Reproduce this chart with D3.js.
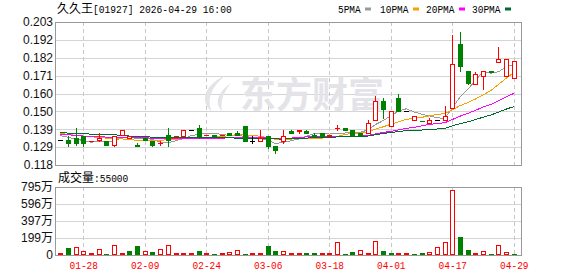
<!DOCTYPE html>
<html>
<head>
<meta charset="utf-8">
<script src="https://cdn.jsdelivr.net/npm/d3@7"></script>
<style>
    body { margin: 0; background: #fff; }
    svg { display: block; }
</style>
</head>
<body>
<div id="chart"></div>
<script>
// header texts
const stockName = "久久王";
const stockCode = "01927";
const stamp = "2026-04-29 16:00";

// daily prices (HKD)
const opens = [0.133, 0.133, 0.134, 0.135, 0.132, 0.133, 0.132, 0.130, 0.136, 0.134,
    0.130, 0.134, 0.132, 0.131, 0.136, 0.135, 0.135, 0.139, 0.140, 0.136,
    0.136, 0.136, 0.137, 0.137, 0.141, 0.132, 0.132, 0.135, 0.129, 0.132,
    0.138, 0.138, 0.138, 0.136, 0.137, 0.135, 0.140, 0.140, 0.139, 0.137,
    0.137, 0.145, 0.156, 0.141, 0.158, 0.150, 0.145, 0.144, 0.143, 0.145,
    0.145, 0.152, 0.190, 0.174, 0.166, 0.171, 0.174, 0.179, 0.171, 0.170];
const closes = [0.133, 0.131, 0.131, 0.131, 0.132, 0.134, 0.130, 0.135, 0.139, 0.135,
    0.129, 0.133, 0.130, 0.131, 0.133, 0.135, 0.139, 0.139, 0.135, 0.136,
    0.135, 0.136, 0.136, 0.136, 0.132, 0.132, 0.134, 0.129, 0.127, 0.135,
    0.137, 0.139, 0.137, 0.135, 0.135, 0.136, 0.140, 0.139, 0.136, 0.136,
    0.143, 0.156, 0.151, 0.150, 0.150, 0.150, 0.147, 0.144, 0.145, 0.145,
    0.147, 0.178, 0.177, 0.167, 0.172, 0.174, 0.173, 0.181, 0.181, 0.180];
const highs = [0.133, 0.135, 0.140, 0.135, 0.132, 0.137, 0.132, 0.135, 0.139, 0.135,
    0.131, 0.134, 0.132, 0.132, 0.140, 0.135, 0.139, 0.139, 0.142, 0.136,
    0.136, 0.136, 0.137, 0.138, 0.141, 0.135, 0.139, 0.135, 0.129, 0.139,
    0.139, 0.139, 0.139, 0.137, 0.137, 0.136, 0.142, 0.140, 0.139, 0.137,
    0.145, 0.159, 0.158, 0.150, 0.160, 0.150, 0.147, 0.144, 0.146, 0.145,
    0.153, 0.195, 0.197, 0.174, 0.173, 0.174, 0.174, 0.188, 0.181, 0.180];
const lows = [0.133, 0.129, 0.130, 0.129, 0.132, 0.132, 0.130, 0.129, 0.136, 0.134,
    0.129, 0.133, 0.129, 0.130, 0.129, 0.135, 0.135, 0.139, 0.134, 0.136,
    0.135, 0.136, 0.136, 0.136, 0.132, 0.131, 0.132, 0.128, 0.125, 0.131,
    0.137, 0.137, 0.137, 0.135, 0.135, 0.135, 0.139, 0.139, 0.136, 0.136,
    0.137, 0.145, 0.146, 0.141, 0.150, 0.150, 0.145, 0.144, 0.143, 0.145,
    0.145, 0.152, 0.174, 0.166, 0.166, 0.163, 0.173, 0.179, 0.171, 0.170];

// volume, in 万 shares
const volumes = [8, 83, 83, 40, 10, 63, 15, 109, 10, 52,
    109, 40, 40, 63, 106, 10, 10, 10, 52, 8,
    12, 8, 20, 52, 12, 8, 8, 109, 52, 40,
    8, 8, 20, 20, 8, 5, 135, 5, 30, 52,
    10, 153, 52, 20, 8, 8, 12, 20, 20, 84,
    135, 737, 207, 63, 8, 40, 10, 104, 20, 5.5];

// moving averages as shown
const ma5 = [0.1355, 0.1345, 0.1335, 0.1325, 0.1316, 0.1318, 0.1316, 0.1324, 0.1340, 0.1346,
    0.1336, 0.1342, 0.1332, 0.1316, 0.1312, 0.1324, 0.1336, 0.1354, 0.1362, 0.1368,
    0.1368, 0.1362, 0.1356, 0.1358, 0.1350, 0.1344, 0.1340, 0.1326, 0.1308, 0.1314,
    0.1324, 0.1334, 0.1350, 0.1366, 0.1366, 0.1364, 0.1366, 0.1370, 0.1372, 0.1374,
    0.1388, 0.1420, 0.1444, 0.1472, 0.1500, 0.1514, 0.1496, 0.1482, 0.1472, 0.1462,
    0.1456, 0.1518, 0.1584, 0.1628, 0.1682, 0.1736, 0.1726, 0.1734, 0.1762, 0.1778];
const ma10 = [0.1368, 0.1362, 0.1356, 0.1352, 0.1348, 0.1344, 0.1340, 0.1338, 0.1335, 0.1331,
    0.1327, 0.1329, 0.1328, 0.1328, 0.1329, 0.1330, 0.1339, 0.1343, 0.1339, 0.1340,
    0.1346, 0.1349, 0.1355, 0.1360, 0.1359, 0.1356, 0.1351, 0.1341, 0.1333, 0.1332,
    0.1334, 0.1337, 0.1338, 0.1337, 0.1340, 0.1344, 0.1350, 0.1360, 0.1369, 0.1370,
    0.1376, 0.1393, 0.1407, 0.1422, 0.1437, 0.1451, 0.1458, 0.1463, 0.1472, 0.1481,
    0.1485, 0.1507, 0.1533, 0.1550, 0.1572, 0.1596, 0.1622, 0.1659, 0.1695, 0.1730];
const ma20 = [0.1362, 0.1360, 0.1356, 0.1352, 0.1350, 0.1348, 0.1346, 0.1345, 0.1344, 0.1343,
    0.1342, 0.1341, 0.1340, 0.1339, 0.1338, 0.1337, 0.1337, 0.1336, 0.1336, 0.1336,
    0.1337, 0.1339, 0.1342, 0.1344, 0.1344, 0.1343, 0.1345, 0.1342, 0.1336, 0.1336,
    0.1340, 0.1343, 0.1347, 0.1349, 0.1350, 0.1350, 0.1351, 0.1351, 0.1351, 0.1351,
    0.1355, 0.1365, 0.1373, 0.1380, 0.1389, 0.1398, 0.1404, 0.1412, 0.1421, 0.1426,
    0.1431, 0.1450, 0.1470, 0.1486, 0.1505, 0.1524, 0.1540, 0.1561, 0.1584, 0.1606];
const ma30 = [0.1372, 0.1370, 0.1368, 0.1365, 0.1364, 0.1363, 0.1362, 0.1360, 0.1356, 0.1352,
    0.1349, 0.1347, 0.1346, 0.1345, 0.1345, 0.1344, 0.1344, 0.1343, 0.1343, 0.1342,
    0.1342, 0.1341, 0.1341, 0.1340, 0.1339, 0.1338, 0.1337, 0.1336, 0.1335, 0.1334,
    0.1336, 0.1338, 0.1340, 0.1342, 0.1343, 0.1343, 0.1347, 0.1348, 0.1347, 0.1347,
    0.1352, 0.1360, 0.1367, 0.1373, 0.1379, 0.1384, 0.1386, 0.1388, 0.1391, 0.1394,
    0.1398, 0.1412, 0.1426, 0.1436, 0.1450, 0.1464, 0.1477, 0.1494, 0.1512, 0.1527];

const maNames = ["5PMA", "10PMA", "20PMA", "30PMA"];

// axis ticks
const priceTickLabels = ["0.118", "0.129", "0.139", "0.150", "0.160", "0.171", "0.182", "0.192", "0.203"];
const volTickLabels = ["0", "199万", "397万", "596万", "795万"];
const dateTickIndex = [3, 11, 19, 27, 35, 43, 51, 59];
const dateTickLabels = ["01-28", "02-09", "02-24", "03-06", "03-18", "04-01", "04-17", "04-29"];

const RED = "#ff0000", GREEN = "#008000";
const MONO = "'Liberation Mono', 'DejaVu Sans Mono', monospace";
const CJK = "'Noto Sans CJK SC', sans-serif";
const SANS = "'Liberation Sans', Arial, 'Noto Sans CJK SC', sans-serif";
const CHAR_W = 5.8; // half-width glyph advance of the bitmap font

class KChart {
    constructor() {
        this.left = 55;
        this.right = 522;
        this.svg = d3.select("#chart")
            .append("svg")
            .attr("width", 578)
            .attr("height", 276);

        // scales
        this.x = d3.scaleLinear().domain([0, closes.length - 1]).range([60.2, 513.8]);
        this.y = d3.scaleLinear().domain([0.118, 0.203]).range([165, 22]);
        this.yv = d3.scaleLinear().domain([0, 795]).range([255, 186.5]);
        this.colors = d3.scaleOrdinal().domain(maNames).range(["#9a9a9a", "#f5a300", "#ff00ff", "#006a30"]);

        this.drawHeader();
        this.drawFrames();
        this.drawWatermark();
        this.drawMA();
        this.drawCandles();
        this.drawVolume();
    }

    // half-width text, stretched to the cell width of the original font
    mono(sel, str) {
        return sel.style("font-family", MONO).style("font-size", "10px")
            .attr("textLength", str.length * CHAR_W - 0.5)
            .attr("lengthAdjust", "spacingAndGlyphs")
            .text(str);
    }

    // title and legend
    drawHeader() {
        let t = this.svg.append("text").attr("x", 57).attr("y", 13).attr("fill", "#000");
        t.append("tspan").style("font-family", CJK).style("font-size", "12px").text(stockName);
        this.mono(this.svg.append("text").attr("x", 93).attr("y", 13).attr("fill", "#000"),
            "[" + stockCode + "] " + stamp);

        let lx = [338, 380, 426, 472];
        let g = this.svg.append("g");
        maNames.forEach((name, i) => {
            this.mono(g.append("text").attr("x", lx[i]).attr("y", 12.5), name);
            g.append("rect")
                .attr("x", lx[i] + name.length * 6 + 3).attr("y", 7.5)
                .attr("width", 6).attr("height", 3)
                .attr("fill", this.colors(name));
        });
    }

    // grids, borders, axes
    drawFrames() {
        let w = this.right - this.left;
        let pTicks = priceTickLabels.map((d, i) => this.y.domain()[0] + i * (this.y.domain()[1] - this.y.domain()[0]) / 8);
        let vTicks = volTickLabels.map((d, i) => i * this.yv.domain()[1] / 4);

        let panels = [
            { scale: this.y, ticks: pTicks, labels: priceTickLabels },
            { scale: this.yv, ticks: vTicks, labels: volTickLabels }
        ];

        panels.forEach(p => {
            // horizontal grid
            this.svg.append("g")
                .attr("transform", "translate(" + this.left + ",0)")
                .call(d3.axisLeft(p.scale).tickValues(p.ticks).tickFormat("").tickSize(-w))
                .call(g => g.select(".domain").remove())
                .call(g => g.selectAll("line").attr("stroke", "#d4d4d4").attr("shape-rendering", "crispEdges"));

            // vertical dashed grid
            let [y0, y1] = p.scale.range();
            this.svg.append("g")
                .selectAll("line")
                .data(dateTickIndex)
                .join("line")
                .attr("x1", d => Math.round(this.x(d)) + 0.5)
                .attr("x2", d => Math.round(this.x(d)) + 0.5)
                .attr("y1", y1).attr("y2", y0)
                .attr("stroke", "#c8c8c8")
                .attr("stroke-dasharray", "4,3")
                .attr("shape-rendering", "crispEdges");

            // labels
            this.svg.append("g")
                .attr("transform", "translate(" + this.left + ",0)")
                .call(d3.axisLeft(p.scale).tickValues(p.ticks)
                    .tickFormat((d, i) => p.labels[i]).tickSize(0).tickPadding(2))
                .call(g => g.select(".domain").remove())
                .call(g => g.selectAll("text")
                    .attr("fill", "#111")
                    .style("font-family", SANS)
                    .style("font-size", "12px"));

            // border
            this.svg.append("rect")
                .attr("x", this.left + 0.5).attr("y", Math.round(y1) + 0.5)
                .attr("width", w - 1).attr("height", Math.round(y0) - Math.round(y1))
                .attr("fill", "none").attr("stroke", "#999")
                .attr("shape-rendering", "crispEdges");
        });

        // date labels
        this.svg.append("g")
            .attr("transform", "translate(0,255)")
            .call(d3.axisBottom(this.x).tickValues(dateTickIndex)
                .tickFormat((d, i) => dateTickLabels[i]).tickSize(0).tickPadding(7))
            .call(g => g.select(".domain").remove())
            .call(g => g.selectAll("text")
                .attr("fill", RED)
                .each((d, i, n) => this.mono(d3.select(n[i]), dateTickLabels[i])));

        // volume caption
        this.svg.append("text").attr("x", 58).attr("y", 182).attr("fill", "#000")
            .style("font-family", CJK).style("font-size", "12px").text("成交量");
        this.mono(this.svg.append("text").attr("x", 94).attr("y", 182).attr("fill", "#000"),
            ":" + Math.round(volumes[volumes.length - 1] * 10000));
    }

    // faint brand mark behind the candles
    drawWatermark() {
        let g = this.svg.append("g").attr("fill", "#e4e4e8");
        g.append("path")
            .attr("d", "M226,75 C206,84 198,100 212,112 C206,99 212,86 226,75 Z M231,83 C218,92 214,103 222,111 C220,100 224,92 231,83 Z");
        g.append("text")
            .attr("x", 240).attr("y", 108)
            .style("font-family", CJK)
            .style("font-size", "36px")
            .style("font-weight", "bold")
            .text("东方财富");
    }

    // moving average lines
    drawMA() {
        let series = [ma5, ma10, ma20, ma30];
        let line = d3.line().x((d, i) => this.x(i)).y(d => this.y(d));
        this.svg.append("g")
            .selectAll("path")
            .data(series)
            .join("path")
            .attr("d", line)
            .attr("fill", "none")
            .attr("stroke", (d, i) => this.colors(maNames[i]))
            .attr("stroke-width", 1)
            .attr("shape-rendering", "crispEdges");
    }

    // colour of a candle body
    candleColor(i) {
        if (closes[i] > opens[i]) return RED;
        if (closes[i] < opens[i]) return GREEN;
        if (i == 0 || closes[i] == closes[i - 1]) return "#000";
        return closes[i] > closes[i - 1] ? RED : GREEN;
    }

    drawCandles() {
        let data = closes.map((c, i) => ({ i: i, o: opens[i], c: c, h: highs[i], l: lows[i], col: this.candleColor(i) }));
        let g = this.svg.append("g").attr("shape-rendering", "crispEdges");
        let cx = d => Math.round(this.x(d.i));

        // wicks
        g.selectAll("line.wick")
            .data(data.filter(d => d.h > d.l))
            .join("line")
            .attr("class", "wick")
            .attr("x1", d => cx(d) + 0.5).attr("x2", d => cx(d) + 0.5)
            .attr("y1", d => Math.round(this.y(d.h)))
            .attr("y2", d => Math.round(this.y(d.l)) + 1)
            .attr("stroke", d => d.col);

        // bodies
        data.forEach(d => {
            let top = Math.round(this.y(Math.max(d.o, d.c)));
            let bot = Math.round(this.y(Math.min(d.o, d.c)));
            if (bot - top < 1) {
                g.append("line")
                    .attr("x1", cx(d) - 2).attr("x2", cx(d) + 3)
                    .attr("y1", top + 0.5).attr("y2", top + 0.5)
                    .attr("stroke", d.col);
            } else if (d.col == RED) {
                g.append("rect")
                    .attr("x", cx(d) - 1.5).attr("y", top + 0.5)
                    .attr("width", 4).attr("height", bot - top)
                    .attr("fill", "#fff").attr("stroke", RED);
            } else {
                g.append("rect")
                    .attr("x", cx(d) - 2).attr("y", top)
                    .attr("width", 5).attr("height", bot - top + 1)
                    .attr("fill", d.col);
            }
        });
    }

    // volume bars, coloured by change from the previous close
    drawVolume() {
        let g = this.svg.append("g").attr("shape-rendering", "crispEdges");
        volumes.forEach((v, i) => {
            let up = i == 0 || closes[i] >= closes[i - 1];
            let cx = Math.round(this.x(i));
            let top = Math.round(this.yv(v));
            let base = Math.round(this.yv(0));
            if (up) {
                g.append("rect")
                    .attr("x", cx - 1.5).attr("y", Math.min(top, base - 1) - 0.5)
                    .attr("width", 4).attr("height", Math.max(base - top, 1))
                    .attr("fill", "#fff").attr("stroke", RED);
            } else {
                g.append("rect")
                    .attr("x", cx - 2).attr("y", Math.min(top, base - 1))
                    .attr("width", 5).attr("height", Math.max(base - top, 1))
                    .attr("fill", GREEN);
            }
        });
    }
}

new KChart();
</script>
</body>
</html>
